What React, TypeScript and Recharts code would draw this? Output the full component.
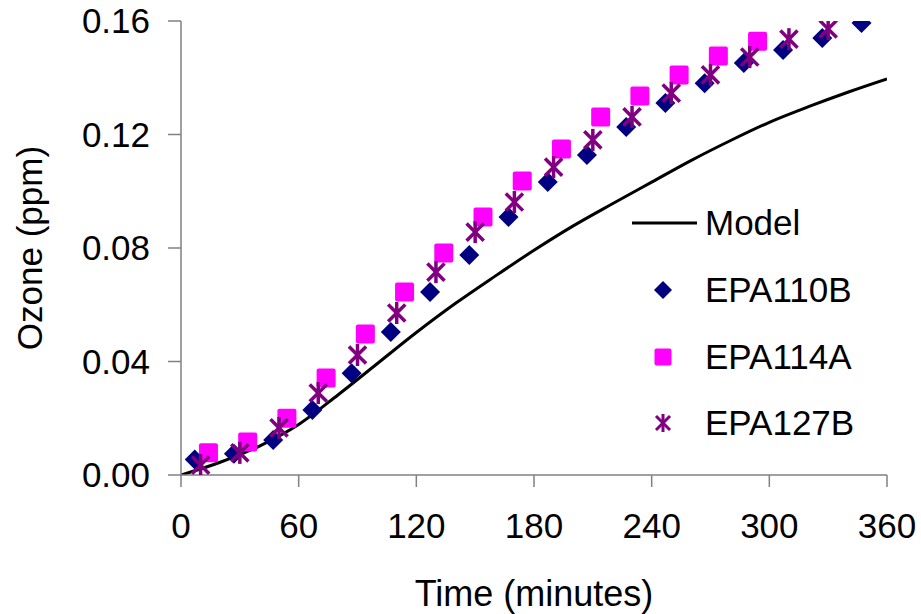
import { ComposedChart, Line, Scatter, XAxis, YAxis } from "recharts";

// time (minutes) / ozone (ppm)
const modelTime = [0, 20, 40, 60, 80, 100, 120, 140, 160, 180, 200, 220, 240, 260, 280, 300, 320, 340, 360];
const modelOzone = [0, 0.0045, 0.0102, 0.0178, 0.0282, 0.0392, 0.0502, 0.0605, 0.07, 0.0792, 0.0878, 0.0956, 0.1032, 0.1108, 0.1178, 0.1243, 0.1298, 0.1349, 0.1396];

const epa110bTime = [7, 27, 47, 67, 87, 107, 127, 147, 167, 187, 207, 227, 247, 267, 287, 307, 327, 347];
const epa110bOzone = [0.0055, 0.0075, 0.0123, 0.0229, 0.0359, 0.0504, 0.0645, 0.0775, 0.0909, 0.1033, 0.1128, 0.1226, 0.1311, 0.1381, 0.1452, 0.1498, 0.154, 0.1593];

const epa114aTime = [14, 34, 54, 74, 94, 114, 134, 154, 174, 194, 214, 234, 254, 274, 294];
const epa114aOzone = [0.0078, 0.0116, 0.02, 0.0342, 0.0497, 0.0645, 0.0782, 0.0909, 0.1036, 0.1149, 0.1262, 0.1336, 0.141, 0.1477, 0.1529];

const epa127bTime = [10, 30, 50, 70, 90, 110, 130, 150, 170, 190, 210, 230, 250, 270, 290, 310, 330];
const epa127bOzone = [0.0035, 0.0078, 0.0166, 0.0289, 0.0423, 0.0571, 0.0715, 0.0856, 0.0962, 0.1085, 0.1181, 0.1262, 0.1346, 0.141, 0.1473, 0.1536, 0.1572];

const xTicks = [0, 60, 120, 180, 240, 300, 360];
const yTicks = [0, 0.04, 0.08, 0.12, 0.16];

const zip = (xs: number[], ys: number[]) => xs.map((x, i) => ({ x, y: ys[i] }));

const NAVY = "#000080";
const MAGENTA = "#FF00FF";
const PURPLE = "#800080";
const FONT = "'Liberation Sans', Arial, sans-serif";
const AXIS_GREY = "#808080";

function Diamond({ cx, cy, r = 10 }: any) {
  if (cx == null || cy == null) return null;
  return <polygon points={`${cx},${cy - r} ${cx + r},${cy} ${cx},${cy + r} ${cx - r},${cy}`} fill={NAVY} />;
}

function Square({ cx, cy, r = 9.5 }: any) {
  if (cx == null || cy == null) return null;
  return <rect x={cx - r} y={cy - r} width={r * 2} height={r * 2} rx={2} fill={MAGENTA} />;
}

function Star({ cx, cy, r = 11, w = 3.5 }: any) {
  if (cx == null || cy == null) return null;
  const d = r * 0.78;
  return (
    <g stroke={PURPLE} strokeWidth={w} strokeLinecap="butt">
      <line x1={cx - d} y1={cy - d} x2={cx + d} y2={cy + d} />
      <line x1={cx - d} y1={cy + d} x2={cx + d} y2={cy - d} />
      <line x1={cx} y1={cy - r} x2={cx} y2={cy + r} />
    </g>
  );
}

// legend drawn by hand, placed where Excel put it inside the plot area
function LegendBox() {
  const textProps = { fontFamily: FONT, fontSize: 35, fill: "#000" };
  const rows = [
    { y: 100, label: "EPA110B", icon: <Diamond cx={43} cy={100} r={9} /> },
    { y: 167, label: "EPA114A", icon: <Square cx={43} cy={167} r={8.5} /> },
    { y: 233, label: "EPA127B", icon: <Star cx={43} cy={233} r={9} w={3} /> },
  ];
  return (
    <svg width={290} height={260} style={{ position: "absolute", left: 620, top: 190 }}>
      <line x1={12} y1={33} x2={77} y2={33} stroke="#000" strokeWidth={3} />
      <text x={85} y={33} dy="0.355em" {...textProps}>Model</text>
      {rows.map((r) => (
        <g key={r.label}>
          {r.icon}
          <text x={85} y={r.y} dy="0.355em" {...textProps}>{r.label}</text>
        </g>
      ))}
    </svg>
  );
}

export default function App() {
  const tickStyle = { fill: "#000", fontSize: 35, fontFamily: FONT };
  return (
    <div style={{ position: "absolute", left: 0, top: 0, width: 921, height: 614, background: "#fff" }}>
      <ComposedChart width={921} height={614} margin={{ top: 21, right: 34, bottom: 0, left: 0 }}>
        <XAxis
          type="number"
          dataKey="x"
          domain={[0, 360]}
          ticks={xTicks}
          interval={0}
          allowDataOverflow
          height={139}
          tick={tickStyle}
          tickSize={12}
          tickMargin={26}
          stroke={AXIS_GREY}
          strokeWidth={1.5}
          label={{ value: "Time (minutes)", position: "insideBottom", offset: 8, style: { fill: "#000", fontSize: 36, fontFamily: FONT } }}
        />
        <YAxis
          type="number"
          dataKey="y"
          domain={[0, 0.16]}
          ticks={yTicks}
          interval={0}
          allowDataOverflow
          width={181}
          tick={tickStyle}
          tickSize={13}
          tickMargin={18}
          tickFormatter={(v: number) => v.toFixed(2)}
          stroke={AXIS_GREY}
          strokeWidth={1.5}
          label={{ value: "Ozone (ppm)", angle: -90, position: "insideLeft", offset: 30, style: { fill: "#000", fontSize: 35, fontFamily: FONT, textAnchor: "middle" } }}
        />
        <Line
          data={zip(modelTime, modelOzone)}
          dataKey="y"
          type="monotone"
          stroke="#000"
          strokeWidth={3}
          dot={false}
          activeDot={false}
          isAnimationActive={false}
          name="Model"
        />
        <Scatter data={zip(epa110bTime, epa110bOzone)} shape={<Diamond />} isAnimationActive={false} name="EPA110B" />
        <Scatter data={zip(epa114aTime, epa114aOzone)} shape={<Square />} isAnimationActive={false} name="EPA114A" />
        <Scatter data={zip(epa127bTime, epa127bOzone)} shape={<Star />} isAnimationActive={false} name="EPA127B" />
      </ComposedChart>
      <LegendBox />
    </div>
  );
}
